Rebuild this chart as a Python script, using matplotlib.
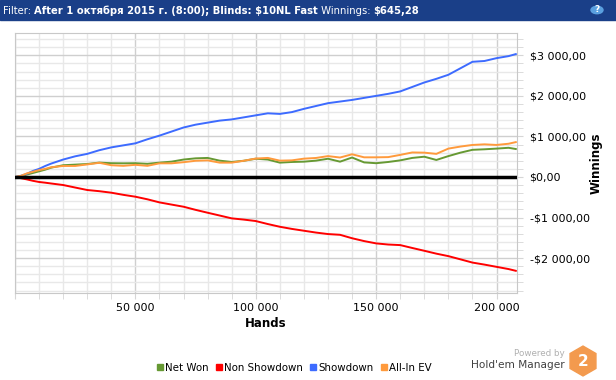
import matplotlib
matplotlib.use("Agg")
import matplotlib.pyplot as plt
from matplotlib.lines import Line2D
from matplotlib.patches import Rectangle, Circle, RegularPolygon
from matplotlib.ticker import MultipleLocator, FuncFormatter

# hands played (x) and cumulative winnings in $ for each line
hands = [0, 2500, 5000, 7500, 10000, 12500, 15000, 20000, 25000, 30000, 35000,
         40000, 45000, 50000, 55000, 60000, 65000, 70000, 75000, 80000, 85000,
         90000, 95000, 100000, 105000, 110000, 115000, 120000, 125000, 130000,
         135000, 140000, 145000, 150000, 155000, 160000, 165000, 170000, 175000,
         180000, 185000, 190000, 195000, 200000, 205000, 208000]

net_won = [0, 20, 60, 100, 140, 180, 230, 290, 305, 320, 355,
           340, 337, 340, 325, 354, 378, 430, 460, 470, 403,
           370, 400, 450, 430, 354, 370, 378, 403, 450,
           378, 480, 360, 340, 370, 410, 470, 500, 420,
           515, 600, 670, 683, 700, 720, 690]

non_showdown = [0, -30, -60, -95, -123, -140, -160, -198, -260, -321, -350,
                -387, -440, -486, -550, -626, -680, -733, -810, -881, -950,
                -1020, -1050, -1086, -1160, -1227, -1280, -1325, -1370, -1407,
                -1425, -1510, -1580, -1637, -1665, -1679, -1750, -1819, -1890,
                -1951, -2030, -2110, -2160, -2215, -2270, -2313]

showdown = [0, 30, 80, 150, 200, 270, 330, 430, 510, 570, 660,
            730, 780, 830, 930, 1020, 1120, 1220, 1290, 1340, 1390,
            1420, 1470, 1520, 1570, 1555, 1600, 1680, 1750, 1820,
            1860, 1900, 1950, 2000, 2050, 2110, 2220, 2330, 2420,
            2520, 2680, 2840, 2860, 2930, 2980, 3030]

allin_ev = [0, 30, 90, 130, 170, 200, 240, 272, 272, 310, 350,
            290, 275, 300, 275, 337, 337, 365, 400, 410, 354,
            354, 400, 455, 470, 403, 410, 452, 469, 515,
            480, 560, 485, 485, 490, 545, 605, 600, 570,
            700, 750, 790, 805, 790, 820, 860]

series = [
    ("Net Won", net_won, "#669933"),
    ("Non Showdown", non_showdown, "#ff0000"),
    ("Showdown", showdown, "#3d6bff"),
    ("All-In EV", allin_ev, "#ff9a3c"),
]


def money(v, pos=None):
    s = f"{abs(v):,.2f}".replace(",", " ").replace(".", ",")
    return ("-$" if v < 0 else "$") + s


def hands_fmt(v, pos=None):
    if v <= 0:
        return ""
    return f"{int(v):,}".replace(",", " ")


fig = plt.figure(figsize=(6.16, 3.8), dpi=100)
plt.rcParams['font.family'] = ['DejaVu Sans']

# header bar
fig.patches.append(Rectangle((0, 1 - 20 / 380), 1, 20 / 380, transform=fig.transFigure,
                             color="#1a3f88", zorder=0))
pieces = [("Filter: ", "normal"),
          ("After 1 октября 2015 г. (8:00); Blinds: $10NL Fast", "bold"),
          (" Winnings: ", "normal"),
          ("$645,28", "bold")]
fig.canvas.draw()
renderer = fig.canvas.get_renderer()
xpos = 3 / 616
for txt, w in pieces:
    t = fig.text(xpos, 1 - 10.5 / 380, txt, color="white", fontsize=7.2, fontweight=w,
                 va="center", ha="left")
    bb = t.get_window_extent(renderer)
    xpos += bb.width / 616
fig.patches.append(Circle((597 / 616, 1 - 10 / 380), 6 / 616, transform=fig.transFigure,
                          color="#5aa0e0", zorder=1))
fig.text(597 / 616, 1 - 10 / 380, "?", color="white", fontsize=6.5, fontweight="bold",
         ha="center", va="center")

ax = fig.add_axes([15 / 616, 1 - 293 / 380, 502 / 616, 260 / 380])
for name, vals, col in series:
    ax.plot(hands, vals, color=col, linewidth=1.4, zorder=3)
ax.axhline(0, color="black", linewidth=2.5, zorder=4)

ax.set_xlim(0, 208500)
ax.set_ylim(-2860, 3550)
ax.xaxis.set_major_locator(MultipleLocator(50000))
ax.xaxis.set_minor_locator(MultipleLocator(10000))
ax.yaxis.set_major_locator(MultipleLocator(1000))
ax.yaxis.set_minor_locator(MultipleLocator(200))
ax.xaxis.set_major_formatter(FuncFormatter(hands_fmt))
ax.yaxis.set_major_formatter(FuncFormatter(money))
ax.yaxis.tick_right()
ax.yaxis.set_label_position("right")
ax.grid(True, which="major", color="#cfcfcf", linewidth=1)
ax.grid(True, which="minor", color="#e8e8e8", linewidth=1)
ax.tick_params(which="both", length=4, color="#d6d6d6", labelsize=8, pad=5)
ax.tick_params(axis="x", which="major", pad=3)
for sp in ax.spines.values():
    sp.set_color("#c8c8c8")
ax.set_axisbelow(True)

ax.set_xlabel("Hands", fontsize=8.5, fontweight="bold", labelpad=3)
ax.set_ylabel("Winnings", fontsize=8.5, fontweight="bold", labelpad=0)

handles = [Line2D([], [], color=c, marker="s", linestyle="none", markersize=5) for _, _, c in series]
fig.legend(handles, [n for n, _, _ in series], loc="center", bbox_to_anchor=(0.477, 1 - 368 / 380),
           ncol=4, frameon=False, fontsize=7.4, handletextpad=0.1, columnspacing=0.6,
           handlelength=0.8)

# Powered by logo
fig.text(565 / 616, 1 - 353 / 380, "Powered by", color="#b0b0b0", fontsize=6.3,
         ha="right", va="center")
fig.text(565 / 616, 1 - 365 / 380, "Hold'em Manager", color="#404040", fontsize=7.6,
         ha="right", va="center")
lax = fig.add_axes([568 / 616, 1 - 377 / 380, 30 / 616, 32 / 380])
lax.set_xlim(-1, 1)
lax.set_ylim(-1.07, 1.07)
lax.set_aspect("equal")
lax.axis("off")
lax.add_patch(RegularPolygon((0, 0), 6, radius=1.0, color="#f39a4e"))
lax.text(0, 0, "2", color="white", fontsize=11, fontweight="bold", ha="center", va="center")

fig.savefig("out.png", dpi=100)
